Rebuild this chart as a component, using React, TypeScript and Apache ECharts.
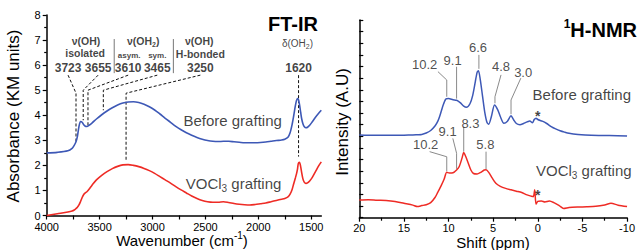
import React, { useEffect, useRef } from 'react';
import * as echarts from 'echarts';

const FONT = '"Liberation Sans", Arial, Helvetica, sans-serif';
const BLUE = '#3d58b6';
const RED = '#ee2b25';
const INK = '#111';

// ---------------- FT-IR ----------------
const irWavenumber = [4000, 3900, 3800, 3760, 3740, 3725, 3710, 3695, 3680, 3665, 3650, 3635, 3620, 3600, 3570, 3530, 3480, 3430, 3380, 3330, 3280, 3230, 3180, 3130, 3080, 3030, 2980, 2930, 2880, 2830, 2780, 2730, 2680, 2630, 2580, 2530, 2480, 2430, 2380, 2330, 2280, 2230, 2180, 2130, 2080, 2030, 1980, 1930, 1880, 1830, 1780, 1750, 1720, 1700, 1680, 1665, 1650, 1640, 1630, 1622, 1612, 1600, 1590, 1578, 1565, 1550, 1535, 1515, 1490, 1460, 1430, 1405];
const irBefore = [2.5, 2.52, 2.58, 2.68, 2.8, 2.92, 3.15, 3.55, 3.75, 3.72, 3.62, 3.56, 3.55, 3.6, 3.7, 3.85, 4.02, 4.17, 4.3, 4.41, 4.49, 4.53, 4.54, 4.51, 4.44, 4.34, 4.21, 4.05, 3.88, 3.72, 3.56, 3.42, 3.3, 3.2, 3.11, 3.04, 2.99, 2.96, 2.95, 2.96, 2.96, 2.94, 2.92, 2.9, 2.9, 2.9, 2.91, 2.93, 2.96, 2.99, 3.01, 3.04, 3.12, 3.3, 3.65, 4.0, 4.38, 4.58, 4.67, 4.64, 4.45, 4.12, 3.85, 3.65, 3.54, 3.5, 3.52, 3.6, 3.74, 3.92, 4.08, 4.2];
const irGrafted = [0.0, 0.07, 0.14, 0.18, 0.22, 0.27, 0.33, 0.42, 0.56, 0.72, 0.84, 0.9, 0.95, 1.05, 1.22, 1.42, 1.6, 1.75, 1.87, 1.96, 2.02, 2.03, 2.0, 1.95, 1.88, 1.79, 1.68, 1.55, 1.42, 1.29, 1.15, 1.02, 0.9, 0.78, 0.68, 0.6, 0.55, 0.53, 0.53, 0.55, 0.52, 0.48, 0.45, 0.43, 0.42, 0.44, 0.47, 0.5, 0.55, 0.6, 0.65, 0.68, 0.74, 0.85, 1.05, 1.28, 1.5, 1.65, 1.85, 2.08, 2.12, 1.95, 1.7, 1.45, 1.32, 1.28, 1.3, 1.38, 1.52, 1.75, 1.98, 2.14];
const irXLabels = [1500, 2000, 2500, 3000, 3500, 4000];
const irXTicks = [1500, 1750, 2000, 2250, 2500, 2750, 3000, 3250, 3500, 3750, 4000];

const irPeaks = [3723, 3655, 3610, 3465, 3250, 1620];
const irPeakLabelAt = [3798, 3514, 3230, 2955, 2548, 1620];
const irLeaderElbow = [4.88, 5.0, 5.0, 5.0, 4.88, 5.6];
const irLeaderEnd = [2.88, 3.8, 3.52, 4.2, 2.2, 2.35];
const irGroupSeparators = [3362, 2803];

// ---------------- 1H-NMR ----------------
const nmrShift = [20, 19, 18, 17, 16, 15, 14, 13.5, 13, 12.5, 12, 11.5, 11.2, 11, 10.6, 10.3, 10.0, 9.5, 9.1, 8.7, 8.3, 8.0, 7.6, 7.3, 7.0, 6.8, 6.65, 6.45, 6.2, 5.95, 5.7, 5.5, 5.2, 4.85, 4.5, 4.2, 3.8, 3.4, 3.0, 2.7, 2.4, 2.0, 1.6, 1.2, 0.9, 0.6, 0.4, 0.2, 0, -0.5, -1, -1.5, -2, -2.5, -3, -3.5, -4.5, -6, -8, -10];
const nmrBefore = [3.06, 3.05, 3.05, 3.04, 3.04, 3.05, 3.06, 3.07, 3.08, 3.14, 3.25, 3.45, 3.65, 3.85, 4.35, 4.6, 4.62, 4.57, 4.55, 4.45, 4.3, 4.25, 4.4, 4.75, 5.35, 5.75, 5.82, 5.45, 4.75, 4.05, 3.6, 3.52, 3.85, 4.35, 4.15, 3.85, 3.56, 3.65, 3.88, 3.7, 3.55, 3.5, 3.55, 3.62, 3.66, 3.58, 3.72, 3.78, 3.72, 3.65, 3.55, 3.42, 3.32, 3.24, 3.18, 3.13, 3.08, 3.04, 3.03, 3.01];

const nmrShiftG = [20, 19, 18, 17, 16, 15, 14, 13.5, 13, 12.5, 12, 11.5, 11.2, 10.8, 10.5, 10.2, 9.9, 9.5, 9.1, 8.8, 8.5, 8.3, 8.1, 7.8, 7.5, 7.2, 6.8, 6.4, 6.0, 5.8, 5.5, 5.1, 4.7, 4.2, 3.6, 3.0, 2.4, 1.8, 1.2, 0.7, 0.5, 0.35, 0.2, 0, -0.4, -0.8, -1.3, -1.8, -2.4, -2.9, -3.5, -4.5, -5.5, -6.5, -7.5, -8.2, -9, -10];
const nmrGrafted = [0.26, 0.27, 0.25, 0.24, 0.2, 0.12, 0.04, -0.02, 0.02, 0.06, 0.15, 0.38, 0.6, 0.9, 1.15, 1.45, 1.42, 1.43, 1.55, 1.7, 2.05, 2.3, 2.15, 1.85, 1.55, 1.4, 1.38, 1.45, 1.55, 1.56, 1.45, 1.2, 0.98, 0.85, 0.76, 0.7, 0.64, 0.58, 0.48, 0.42, 0.4, 0.7, 0.08, 0.2, 0.22, 0.18, 0.22, 0.15, 0.02, -0.1, -0.06, -0.04, -0.03, -0.01, 0.05, 0.12, 0.04, -0.02];

const nmrBeforePeaks = [10.2, 9.1, 6.6, 4.8, 3.0];
const nmrBeforeLabelAt = [[12.68, 6.07], [9.55, 6.28], [6.7, 6.8], [4.12, 5.98], [1.64, 5.76]];
const nmrBeforeLeaderStart = [[11.19, 5.78], [9.1, 5.99], [6.6, 6.5], [4.12, 5.64], [1.9, 5.5]];
const nmrBeforeLeaderElbow = [5.42, 5.99, 6.5, 4.7, 4.56];
const nmrBeforeLeaderEnd = [4.7, 4.62, 5.9, 4.42, 3.95];

const nmrGraftedPeaks = [10.2, 9.1, 8.3, 5.8];
const nmrGraftedLabelAt = [[12.56, 2.63], [10.11, 3.2], [7.55, 3.57], [5.88, 2.63]];
const nmrGraftedLeaderStart = [[12.12, 2.34], [9.52, 2.91], [8.3, 3.41], [5.8, 2.34]];
const nmrGraftedLeaderElbow = [2.12, 2.27, 3.41, 2.34];
const nmrGraftedLeaderEnd = [1.5, 1.6, 2.34, 1.58];

const pairs = (xs: number[], ys: number[]) => xs.map((x, i) => [x, ys[i]]);

const RICH: any = {
  g: { fontSize: 15, lineHeight: 20, fontFamily: FONT, color: INK },
  gs: { fontSize: 10, lineHeight: 10, verticalAlign: 'bottom', fontFamily: FONT, color: INK },
  hb: { fontSize: 10.5, fontWeight: 'bold', lineHeight: 14, fontFamily: FONT, color: INK },
  hbs: { fontSize: 7, fontWeight: 'bold', lineHeight: 7, verticalAlign: 'bottom', fontFamily: FONT, color: INK },
  sm: { fontSize: 8, fontWeight: 'bold', lineHeight: 10, fontFamily: FONT, color: INK },
  num: { fontSize: 12, fontWeight: 'bold', lineHeight: 14, fontFamily: FONT, color: INK },
  d: { fontSize: 10, lineHeight: 14, fontFamily: FONT, color: INK },
  ds: { fontSize: 7, lineHeight: 7, verticalAlign: 'bottom', fontFamily: FONT, color: INK },
  n: { fontSize: 13, lineHeight: 16, fontFamily: FONT, color: '#222' },
  star: { fontSize: 14, fontWeight: 'bold', lineHeight: 16, fontFamily: FONT, color: INK },
};

const item = (x: number, y: number, text: string) => ({ value: [x, y], label: { formatter: text } });

function buildOption() {
  const lineSeries = (data: number[][], color: string, xi: number, width = 1.6, smooth: any = 0.3) => ({
    type: 'line', xAxisIndex: xi, yAxisIndex: xi, data, showSymbol: false, smooth,
    lineStyle: { color, width }, silent: true, z: 3,
  });
  const leader = (data: number[][], xi: number, dashed: boolean) => ({
    type: 'line', xAxisIndex: xi, yAxisIndex: xi, data, showSymbol: false, silent: true, z: 2,
    lineStyle: dashed ? { color: '#111', width: 1, type: [3, 2] } : { color: '#8a8a8a', width: 1 },
  });

  const series: any[] = [
    lineSeries(pairs(irWavenumber, irBefore), BLUE, 0),
    lineSeries(pairs(irWavenumber, irGrafted), RED, 0),
    lineSeries(pairs(nmrShift, nmrBefore), BLUE, 1, 1.5, 0.25),
    lineSeries(pairs(nmrShiftG, nmrGrafted), RED, 1, 1.5, 0.25),
  ];
  irPeaks.forEach((p, i) => {
    const start = irPeakLabelAt[i];
    series.push(leader([[start, 5.6], [p, irLeaderElbow[i]], [p, irLeaderEnd[i]]], 0, true));
  });
  irGroupSeparators.forEach((s) => {
    series.push({ type: 'line', xAxisIndex: 0, yAxisIndex: 0, data: [[s, 7.04], [s, 5.68]], showSymbol: false, silent: true, lineStyle: { color: '#777', width: 1 } });
  });
  nmrBeforePeaks.forEach((p, i) => {
    series.push(leader([nmrBeforeLeaderStart[i], [p, nmrBeforeLeaderElbow[i]], [p, nmrBeforeLeaderEnd[i]]], 1, false));
  });
  nmrGraftedPeaks.forEach((p, i) => {
    series.push(leader([nmrGraftedLeaderStart[i], [p, nmrGraftedLeaderElbow[i]], [p, nmrGraftedLeaderEnd[i]]], 1, false));
  });

  const irTexts = [
    item(3628, 6.96, '{hb|ν(OH)}'),
    item(3637, 6.48, '{hb|isolated}'),
    item(3088, 6.96, '{hb|ν(OH}{hbs|2}{hb|)}'),
    item(3221, 6.4, '{sm|asym.}'),
    item(2955, 6.4, '{sm|sym.}'),
    item(2558, 6.96, '{hb|ν(OH)}'),
    item(2548, 6.44, '{hb|H-bonded}'),
    item(1630, 6.88, '{d|δ(OH}{ds|2}{d|)}'),
    ...irPeaks.map((p, i) => item(irPeakLabelAt[i], 5.88, '{num|' + p + '}')),
    item(2243, 3.8, '{g|Before grafting}'),
    item(2234, 1.28, '{g|VOCl}{gs|3}{g| grafting}'),
  ];
  const nmrTexts = [
    ...nmrBeforePeaks.map((p, i) => item(nmrBeforeLabelAt[i][0], nmrBeforeLabelAt[i][1], '{n|' + p.toFixed(1) + '}')),
    ...nmrGraftedPeaks.map((p, i) => item(nmrGraftedLabelAt[i][0], nmrGraftedLabelAt[i][1], '{n|' + p.toFixed(1) + '}')),
    item(-4.93, 4.78, '{g|Before grafting}'),
    item(-5.15, 1.55, '{g|VOCl}{gs|3}{g| grafting}'),
    item(0.0, 3.86, '{star|*}'),
    item(0.0, 0.48, '{star|*}'),
  ];
  const labelSeries = (data: any[], xi: number) => ({
    type: 'scatter', xAxisIndex: xi, yAxisIndex: xi, symbolSize: 0, silent: true, z: 5,
    data,
    label: { show: true, position: 'inside', align: 'center', verticalAlign: 'middle', fontFamily: FONT, color: INK, rich: RICH },
  });
  series.push(labelSeries(irTexts, 0), labelSeries(nmrTexts, 1));

  const axisLine = { show: true, onZero: false, lineStyle: { color: '#000', width: 1.5 } };
  const tickStyle = { color: '#000', width: 1.2 };
  const labelStyle = { fontFamily: FONT, fontSize: 11, color: '#000', formatter: (v: number) => String(v) };

  return {
    animation: false,
    backgroundColor: '#fff',
    grid: [
      { left: 46.7, top: 15, width: 274.6, height: 200.5 },
      { left: 359.3, top: 20, width: 268.7, height: 197.7 },
    ],
    xAxis: [
      {
        type: 'value', gridIndex: 0, min: 1405, max: 4000, inverse: true,
        axisLine, splitLine: { show: false },
        axisTick: { show: true, length: 4, customValues: irXTicks, lineStyle: tickStyle },
        axisLabel: { ...labelStyle, margin: 6, customValues: irXLabels },
      },
      {
        type: 'value', gridIndex: 1, min: -10, max: 20, interval: 5, inverse: true,
        axisLine, splitLine: { show: false },
        axisTick: { show: true, length: 4, lineStyle: tickStyle },
        minorTick: { show: true, splitNumber: 2, length: 3, lineStyle: tickStyle },
        axisLabel: { ...labelStyle, margin: 5 },
      },
    ],
    yAxis: [
      {
        type: 'value', gridIndex: 0, min: 0, max: 8, interval: 1,
        axisLine, splitLine: { show: false },
        axisTick: { show: true, length: 4, lineStyle: tickStyle },
        minorTick: { show: true, splitNumber: 2, length: 2.5, lineStyle: tickStyle },
        axisLabel: { ...labelStyle, margin: 6 },
      },
      {
        type: 'value', gridIndex: 1, min: -0.5, max: 8, interval: 0.5,
        axisLine, splitLine: { show: false },
        axisTick: { show: true, inside: true, length: 4, lineStyle: tickStyle },
        axisLabel: { show: false },
      },
    ],
    graphic: [
      { type: 'text', x: 293, y: 24, style: { text: 'FT-IR', font: 'bold 20px ' + FONT, fill: '#000', textAlign: 'center', textVerticalAlign: 'middle' } },
      {
        type: 'text', x: 637, y: 30,
        style: {
          text: '{s|1}{t|H-NMR}', textAlign: 'right', textVerticalAlign: 'middle', fill: '#000',
          rich: {
            s: { fontSize: 12, fontWeight: 'bold', fontFamily: FONT, lineHeight: 12, verticalAlign: 'top', fill: '#000' },
            t: { fontSize: 20, fontWeight: 'bold', fontFamily: FONT, lineHeight: 24, fill: '#000' },
          },
        },
      },
      {
        type: 'text', x: 182, y: 240,
        style: {
          text: '{a|Wavenumber (cm}{s|-1}{a|)}', textAlign: 'center', textVerticalAlign: 'middle', fill: '#000',
          rich: {
            a: { fontSize: 15, fontFamily: FONT, lineHeight: 20, fill: '#000' },
            s: { fontSize: 10, fontFamily: FONT, lineHeight: 10, verticalAlign: 'top', fill: '#000' },
          },
        },
      },
      { type: 'text', x: 493, y: 242, style: { text: 'Shift (ppm)', font: '15px ' + FONT, fill: '#000', textAlign: 'center', textVerticalAlign: 'middle' } },
      { type: 'text', x: 13, y: 116, rotation: Math.PI / 2, style: { text: 'Absorbance (KM units)', font: '17px ' + FONT, fill: '#000', textAlign: 'center', textVerticalAlign: 'middle' } },
      { type: 'text', x: 342, y: 122, rotation: Math.PI / 2, style: { text: 'Intensity (A.U)', font: '17px ' + FONT, fill: '#000', textAlign: 'center', textVerticalAlign: 'middle' } },
    ],
    series,
  };
}

export default function App() {
  const ref = useRef<HTMLDivElement>(null);
  useEffect(() => {
    if (!ref.current) return;
    const chart = echarts.init(ref.current, undefined, { renderer: 'svg' });
    chart.setOption(buildOption() as any);
    return () => chart.dispose();
  }, []);
  return <div ref={ref} style={{ position: 'fixed', left: 0, top: 0, width: 638, height: 250 }} />;
}
